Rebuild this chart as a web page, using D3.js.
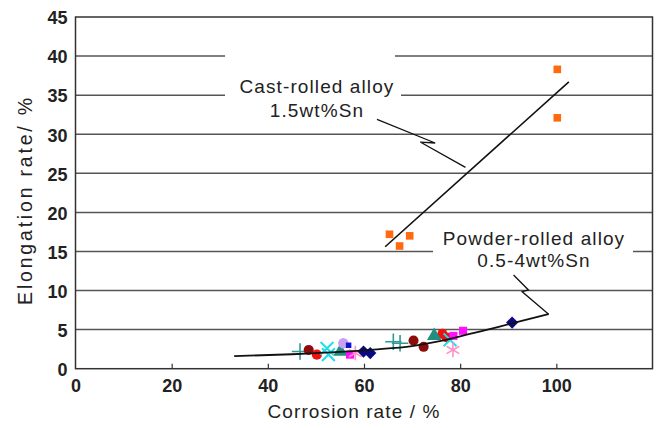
<!DOCTYPE html>
<html><head><meta charset="utf-8">
<script src="https://cdnjs.cloudflare.com/ajax/libs/d3/7.8.5/d3.min.js"></script>
<style>
html,body{margin:0;padding:0;background:#fff;}
svg{display:block;}
</style></head>
<body><svg id="c" width="659" height="428"></svg>
<script>
// ---- data ----
const yTicks = [0,5,10,15,20,25,30,35,40,45];
const xTicks = [0,20,40,60,80,100];
const gridValues = [5,10,15,20,25,30,35,40];

// Cast-rolled alloy 1.5wt%Sn
const castX = [65.3, 67.4, 69.5, 100.2, 100.2];
const castY = [17.2, 15.7, 17.0, 38.3, 32.1];
const castFitX = [64.4, 102.6];
const castFitY = [15.6, 36.7];

// Powder-rolled alloy 0.5-4wt%Sn (several series)
const tealPlusX = [46.7, 66.1, 67.5];
const tealPlusY = [2.2, 3.45, 3.25];
const darkRedX = [48.5, 70.3, 72.4];
const darkRedY = [2.4, 3.6, 2.8];
const redX = [50.2, 76.3, 77.2];
const redY = [1.8, 4.45, 4.0];
const cyanCrossX = [52.3, 52.6, 77.9];
const cyanCrossY = [2.6, 1.8, 3.7];
const tealTriX = [55.1, 74.6];
const tealTriY = [2.2, 4.2];
const violetX = [55.7];
const violetY = [3.25];
const blueDashX = [56.8];
const blueDashY = [3.0];
const magentaX = [57.1, 78.6, 80.6];
const magentaY = [1.8, 4.2, 4.85];
const pinkX = [58.2, 78.5];
const pinkY = [2.0, 2.4];
const navyX = [59.9, 61.3, 90.8];
const navyY = [2.2, 2.0, 5.9];

const powderFitX = [33, 45, 55, 62, 70, 76, 82, 88, 93, 98.4];
const powderFitY = [1.6, 1.85, 2.15, 2.45, 2.9, 3.55, 4.45, 5.35, 6.15, 7.0];

// annotations (data units)
const castLeaderX = [62.7, 74.8, 71.7, 81.1];
const castLeaderY = [31.9, 28.88, 29.0, 25.76];
const powderLeaderX = [91.1, 94.2, 92.9, 98.4];
const powderLeaderY = [11.99, 10.07, 9.85, 6.96];

// ---- layout ----
const svg = d3.select("#c");
const x = d3.scaleLinear().domain([0,120]).range([75.5, 652.5]);
const y = d3.scaleLinear().domain([0,45]).range([368.7, 17]);
const FONT = "'Liberation Sans', Arial, sans-serif";

// gridlines
svg.append("g").selectAll("line").data(gridValues).join("line")
  .attr("x1", x(0)).attr("x2", x(120))
  .attr("y1", d=>y(d)).attr("y2", d=>y(d))
  .attr("stroke", "#555").attr("stroke-width", 1.5);

// label boxes (white) breaking gridlines
svg.append("rect").attr("x", 225).attr("y", 50).attr("width", 170).attr("height", 72).attr("fill", "#fff");
svg.append("rect").attr("x", 395).attr("y", 75).attr("width", 6).attr("height", 30).attr("fill", "#fff");
svg.append("rect").attr("x", 433).attr("y", 222).attr("width", 200).attr("height", 50).attr("fill", "#fff");

// frame
svg.append("rect").attr("x", x(0)).attr("y", y(45))
  .attr("width", x(120)-x(0)).attr("height", y(0)-y(45))
  .attr("fill", "none").attr("stroke", "#333").attr("stroke-width", 1.5);

// axes
const yAxis = svg.append("g").attr("transform", `translate(${x(0)},0)`)
  .call(d3.axisLeft(y).tickValues(yTicks).tickSize(0).tickPadding(8));
yAxis.select(".domain").remove();
yAxis.selectAll("text").attr("font-family", FONT).attr("font-size", 18)
  .attr("font-weight", "bold").attr("fill", "#222").attr("dy", "0.38em");

const xAxis = svg.append("g").attr("transform", `translate(0,${y(0)})`)
  .call(d3.axisBottom(x).tickValues(xTicks).tickSize(-5).tickPadding(11));
xAxis.select(".domain").remove();
xAxis.selectAll("line").attr("stroke", "#333").attr("stroke-width", 1.2);
xAxis.selectAll(".tick").filter(d=>d===0).select("line").remove();
xAxis.selectAll("text").attr("font-family", FONT).attr("font-size", 18)
  .attr("font-weight", "bold").attr("fill", "#222");

// axis titles
svg.append("text").attr("x", 354).attr("y", 418).attr("text-anchor", "middle")
  .attr("font-family", FONT).attr("font-size", 19).attr("letter-spacing", "1.1px")
  .attr("fill", "#222").text("Corrosion rate / %");
svg.append("text").attr("transform", "translate(32,200) rotate(-90)").attr("text-anchor", "middle")
  .attr("font-family", FONT).attr("font-size", 19.5).attr("letter-spacing", "2.8px")
  .attr("fill", "#222").text("Elongation rate/ %");

// annotation labels
function label(cx, lines, baselines){
  lines.forEach((t,i)=>{
    svg.append("text").attr("x", cx).attr("y", baselines[i]).attr("text-anchor","middle")
      .attr("font-family", FONT).attr("font-size", 19).attr("letter-spacing","1.1px")
      .attr("fill","#222").text(t);
  });
}
label(317, ["Cast-rolled alloy","1.5wt%Sn"], [93.3, 117.3]);
label(534, ["Powder-rolled alloy","0.5-4wt%Sn"], [245, 266.7]);

const line = d3.line().x(d=>x(d[0])).y(d=>y(d[1]));
const zip = (a,b)=>a.map((v,i)=>[v,b[i]]);

// leaders
svg.append("path").attr("d", line(zip(castLeaderX, castLeaderY)))
  .attr("fill","none").attr("stroke","#111").attr("stroke-width",1.3);
svg.append("path").attr("d", line(zip(powderLeaderX, powderLeaderY)))
  .attr("fill","none").attr("stroke","#111").attr("stroke-width",1.3);

// cast fit line
svg.append("path").attr("d", line(zip(castFitX, castFitY)))
  .attr("fill","none").attr("stroke","#111").attr("stroke-width",1.6);

// cast points
svg.append("g").selectAll("rect").data(zip(castX, castY)).join("rect")
  .attr("x", d=>x(d[0])-3.8).attr("y", d=>y(d[1])-3.8)
  .attr("width", 7.6).attr("height", 7.6).attr("fill", "#ff6a10");

// powder markers
function sym(xs, ys, type, size, color, opts={}){
  const g = svg.append("g");
  g.selectAll("path").data(zip(xs,ys)).join("path")
    .attr("transform", d=>`translate(${x(d[0])},${y(d[1])})${opts.rot?` rotate(${opts.rot})`:""}`)
    .attr("d", d3.symbol().type(type).size(size))
    .attr("fill", opts.stroke ? "none" : color)
    .attr("stroke", opts.stroke ? color : "none")
    .attr("stroke-width", opts.stroke || 0);
}
sym(tealPlusX, tealPlusY, d3.symbolPlus, 90, "#2f9a96", {stroke:1.6});
sym(darkRedX, darkRedY, d3.symbolCircle, 80, "#8e0b0b");
sym(redX, redY, d3.symbolCircle, 80, "#ee1111");
sym(cyanCrossX, cyanCrossY, d3.symbolTimes, 110, "#22dde8", {stroke:2});
sym(tealTriX, tealTriY, d3.symbolTriangle, 90, "#1f8f80");
sym(violetX, violetY, d3.symbolCircle, 85, "#c9a0f0");
sym(blueDashX, blueDashY, d3.symbolSquare, 30, "#1010d0");
sym(magentaX, magentaY, d3.symbolSquare, 65, "#ff10ff");
sym(pinkX, pinkY, d3.symbolAsterisk, 150, "#ff90c8", {stroke:1.6});
sym(navyX, navyY, d3.symbolSquare, 75, "#0a0a80", {rot:45});

// powder fit curve
svg.append("path").attr("d", d3.line().curve(d3.curveMonotoneX).x(d=>x(d[0])).y(d=>y(d[1]))(zip(powderFitX, powderFitY)))
  .attr("fill","none").attr("stroke","#111").attr("stroke-width",1.8);
</script></body></html>
